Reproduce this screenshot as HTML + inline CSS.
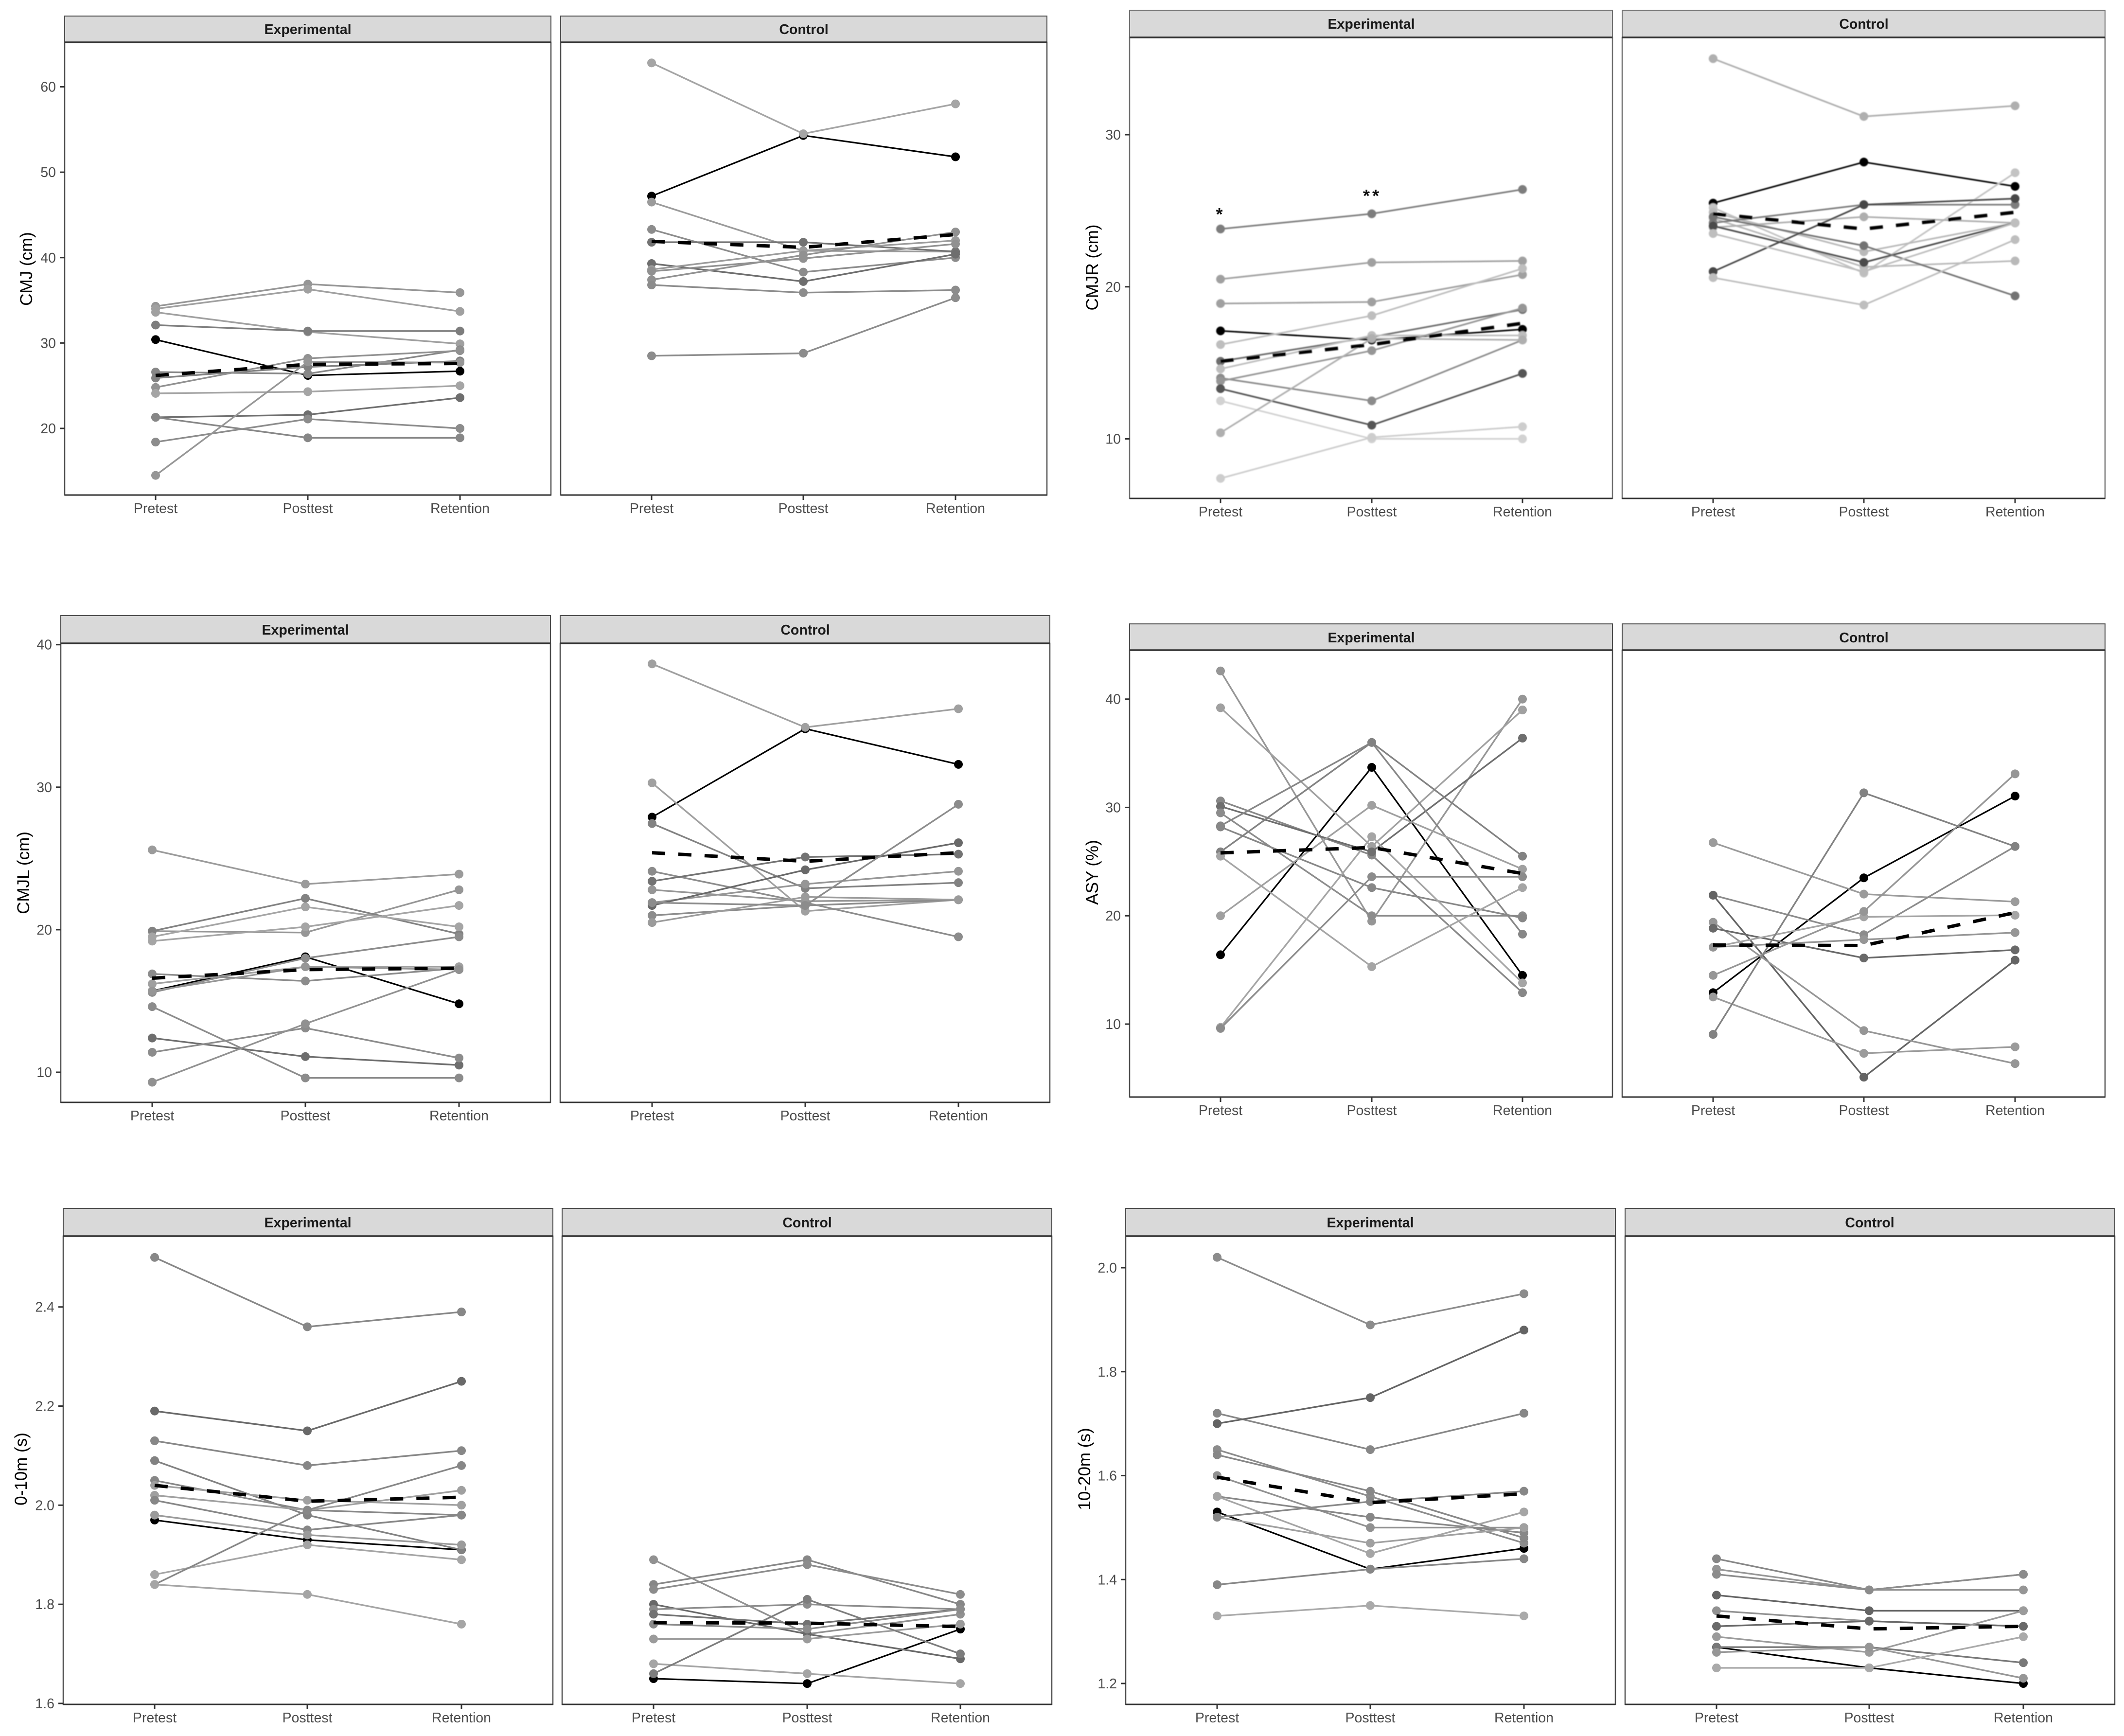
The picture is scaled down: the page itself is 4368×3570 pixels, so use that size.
<!DOCTYPE html>
<html lang="en">
<head>
<meta charset="utf-8">
<title>Jump and sprint performance by group and test</title>
<style>
html,body{margin:0;padding:0;background:#fff;}
svg{display:block;font-family:"Liberation Sans",sans-serif;}
.strip{font-size:28.5px;font-weight:bold;fill:#1a1a1a;text-anchor:middle;}
.ytitle{font-size:35px;fill:#000;text-anchor:middle;}
.star{font-size:36px;font-weight:bold;fill:#111;text-anchor:middle;letter-spacing:5px;}
</style>
</head>
<body>
<svg id="figure" xmlns="http://www.w3.org/2000/svg" width="4368" height="3570" viewBox="0 0 4368 3570">
<defs><filter id="soft" filterUnits="userSpaceOnUse" x="2200" y="0" width="2168" height="1100"><feGaussianBlur stdDeviation="1"/></filter></defs>
<rect x="0" y="0" width="4368" height="3570" fill="#fff"/>
<g id="plots"></g>
<g>
<text class="strip" x="633" y="70">Experimental</text>
<text class="strip" x="1653" y="70">Control</text>
<text class="strip" x="2820" y="59">Experimental</text>
<text class="strip" x="3833" y="59">Control</text>
<text class="strip" x="628" y="1305">Experimental</text>
<text class="strip" x="1656" y="1305">Control</text>
<text class="strip" x="2820" y="1321">Experimental</text>
<text class="strip" x="3833" y="1321">Control</text>
<text class="strip" x="633" y="2524">Experimental</text>
<text class="strip" x="1660" y="2524">Control</text>
<text class="strip" x="2818" y="2524">Experimental</text>
<text class="strip" x="3845" y="2524">Control</text>
</g>
<g>
<text class="ytitle" transform="translate(66,553) rotate(-90)">CMJ (cm)</text>
<text class="ytitle" transform="translate(2258,550) rotate(-90)">CMJR (cm)</text>
<text class="ytitle" transform="translate(60,1795) rotate(-90)">CMJL (cm)</text>
<text class="ytitle" transform="translate(2258,1794) rotate(-90)">ASY (%)</text>
<text class="ytitle" transform="translate(55,3021) rotate(-90)">0-10m (s)</text>
<text class="ytitle" transform="translate(2242,3021) rotate(-90)">10-20m (s)</text>
</g>
<g>
<text class="star" x="2510" y="453">*</text>
<text class="star" x="2822" y="415">**</text>
</g>
</svg>
<script>
const categories = ['Pretest', 'Posttest', 'Retention'];

const cmjTickLabels = ['20', '30', '40', '50', '60'];
const cmjExp = [[34.3,36.9,35.9],[34.0,36.3,33.7],[33.6,31.3,29.9],[32.1,31.4,31.4],[26.6,26.4,29.2],[25.9,27.2,27.9],[24.8,28.2,29.1],[24.1,24.3,25.0],[21.3,21.6,23.6],[21.3,18.9,18.9],[18.4,21.1,20.0],[14.5,27.8,27.7]];
const cmjExpShades = [150,160,160,125,135,130,145,165,110,135,140,150];
const cmjExpHighlight = [30.4,26.2,26.7];
const cmjExpMean = [26.2,27.5,27.6];
const cmjCtl = [[62.8,54.5,58.0],[46.5,40.8,40.7],[43.3,38.3,40.0],[41.8,41.8,40.7],[39.3,37.2,40.4],[38.6,40.8,42.0],[38.4,39.9,41.6],[37.4,40.3,43.0],[36.8,35.9,36.2],[28.5,28.8,35.3]];
const cmjCtlShades = [165,155,140,115,110,155,145,145,140,140];
const cmjCtlHighlight = [47.2,54.3,51.8];
const cmjCtlMean = [41.9,41.2,42.7];

const cmjrTickLabels = ['10', '20', '30'];
const cmjrExp = [[23.8,24.8,26.4],[20.5,21.6,21.7],[18.9,19.0,20.8],[16.2,18.1,21.2],[15.1,16.7,18.5],[14.6,16.8,16.8],[14.0,12.5,16.5],[13.8,15.8,18.6],[13.3,10.9,14.3],[12.5,10.0,10.0],[10.4,16.6,16.5],[7.4,10.1,10.8]];
const cmjrExpShades = [125,160,160,190,110,190,140,150,85,210,175,205];
const cmjrExpHighlight = [17.1,16.5,17.2];
const cmjrExpMean = [15.1,16.2,17.6];
const cmjrCtl = [[35.0,31.2,31.9],[25.2,20.9,27.5],[24.9,22.3,24.2],[24.5,21.3,21.7],[24.2,25.4,25.4],[23.9,24.6,24.2],[24.0,21.6,24.2],[24.6,22.7,19.4],[21.0,25.4,25.8],[20.6,18.8,23.1],[23.5,21.0,24.2]];
const cmjrCtlShades = [175,195,185,185,125,175,75,115,70,190,190];
const cmjrCtlHighlight = [25.5,28.2,26.6];
const cmjrCtlMean = [24.8,23.8,24.9];

const cmjlTickLabels = ['10', '20', '30', '40'];
const cmjlExp = [[25.6,23.2,23.9],[19.9,19.8,22.8],[19.9,22.2,19.7],[19.5,21.6,20.2],[19.2,20.2,21.7],[16.9,16.4,17.3],[16.2,17.4,17.4],[15.6,18.0,19.5],[15.7,17.4,17.2],[14.6,9.6,9.6],[12.4,11.1,10.5],[11.4,13.1,11.0],[9.3,13.4,17.2]];
const cmjlExpShades = [155,150,130,165,165,140,160,140,150,140,110,140,145];
const cmjlExpHighlight = [15.7,18.1,14.8];
const cmjlExpMean = [16.6,17.2,17.3];
const cmjlCtl = [[38.65,34.2,35.5],[30.3,21.3,22.1],[27.45,22.9,23.3],[24.1,21.9,19.5],[23.4,25.1,25.3],[22.8,22.0,22.1],[21.9,23.2,24.1],[21.7,24.2,26.1],[21.0,21.7,22.1],[20.5,22.3,22.1],[21.9,21.7,28.8]];
const cmjlCtlShades = [160,160,130,140,115,150,150,105,140,155,140];
const cmjlCtlHighlight = [27.9,34.1,31.6];
const cmjlCtlMean = [25.4,24.8,25.4];

const asyTickLabels = ['10', '20', '30', '40'];
const asyExp = [[42.6,19.5,40.0],[39.2,26.4,39.0],[30.6,25.6,12.9],[30.1,25.9,36.4],[29.5,20.0,20.0],[28.3,36.0,18.3],[28.2,22.6,19.8],[25.9,36.0,25.5],[25.5,15.3,22.6],[20.0,30.2,24.3],[9.7,27.3,13.8],[9.6,23.6,23.6]];
const asyExpShades = [150,160,135,110,140,135,135,130,165,160,165,140];
const asyExpHighlight = [16.4,33.7,14.5];
const asyExpMean = [25.8,26.3,23.9];
const asyCtl = [[26.75,22.0,21.3],[21.9,18.25,26.4],[21.9,5.1,15.9],[19.4,9.4,6.35],[18.85,16.1,16.85],[17.1,19.9,20.05],[17.1,17.8,18.45],[14.5,20.4,33.1],[12.5,7.3,7.9],[9.05,31.35,26.4]];
const asyCtlShades = [155,140,100,150,105,165,150,150,155,130];
const asyCtlHighlight = [12.9,23.5,31.05];
const asyCtlMean = [17.3,17.25,20.3];

const sprint10TickLabels = ['1.6', '1.8', '2.0', '2.2', '2.4'];
const sprint10Exp = [[2.50,2.36,2.39],[2.19,2.15,2.25],[2.13,2.08,2.11],[2.09,1.98,1.91],[2.05,1.99,1.98],[2.04,2.01,2.00],[2.02,1.99,2.03],[2.01,1.95,1.98],[1.98,1.94,1.92],[1.86,1.92,1.89],[1.84,1.99,2.08],[1.84,1.82,1.76]];
const sprint10ExpShades = [135,105,135,130,135,160,160,135,155,165,135,165];
const sprint10ExpHighlight = [1.97,1.93,1.91];
const sprint10ExpMean = [2.04,2.008,2.016];
const sprint10Ctl = [[1.89,1.74,1.78],[1.84,1.89,1.80],[1.83,1.88,1.82],[1.80,1.74,1.69],[1.79,1.80,1.79],[1.78,1.76,1.79],[1.76,1.75,1.79],[1.73,1.73,1.76],[1.68,1.66,1.64],[1.66,1.81,1.70]];
const sprint10CtlShades = [145,135,140,105,140,115,140,155,165,125];
const sprint10CtlHighlight = [1.65,1.64,1.75];
const sprint10CtlMean = [1.763,1.762,1.755];

const sprint20TickLabels = ['1.2', '1.4', '1.6', '1.8', '2.0'];
const sprint20Exp = [[2.02,1.89,1.95],[1.72,1.65,1.72],[1.70,1.75,1.88],[1.65,1.56,1.47],[1.64,1.57,1.48],[1.60,1.50,1.50],[1.56,1.52,1.49],[1.56,1.45,1.53],[1.52,1.47,1.50],[1.52,1.55,1.57],[1.39,1.42,1.44],[1.33,1.35,1.33]];
const sprint20ExpShades = [140,135,100,140,135,145,135,165,160,135,135,170];
const sprint20ExpHighlight = [1.53,1.42,1.46];
const sprint20ExpMean = [1.597,1.548,1.565];
const sprint20Ctl = [[1.44,1.38,1.41],[1.42,1.38,1.38],[1.41,1.38,1.41],[1.37,1.34,1.34],[1.34,1.32,1.31],[1.31,1.32,1.31],[1.29,1.26,1.34],[1.27,1.27,1.24],[1.26,1.27,1.21],[1.23,1.23,1.29]];
const sprint20CtlShades = [135,150,140,100,145,105,155,120,150,170];
const sprint20CtlHighlight = [1.27,1.23,1.20];
const sprint20CtlMean = [1.33,1.305,1.31];

const layouts = [
  {ticks: cmjTickLabels, tickLow: 881, tickHigh: 178.5, stripTop: 33, stripBottom: 87, bottom: 1018, frame: '#4d4d4d', soft: false,
   panels: [{l:133,r:1133,xs:[320,633,946],rows:cmjExp,shades:cmjExpShades,hi:cmjExpHighlight,mean:cmjExpMean},
            {l:1153,r:2153,xs:[1340,1652,1965],rows:cmjCtl,shades:cmjCtlShades,hi:cmjCtlHighlight,mean:cmjCtlMean}]},
  {ticks: cmjrTickLabels, tickLow: 902.5, tickHigh: 277, stripTop: 21, stripBottom: 77, bottom: 1025, frame: '#707070', soft: true,
   panels: [{l:2323,r:3316,xs:[2510,2821,3131],rows:cmjrExp,shades:cmjrExpShades,hi:cmjrExpHighlight,mean:cmjrExpMean},
            {l:3336,r:4329,xs:[3523,3833,4144],rows:cmjrCtl,shades:cmjrCtlShades,hi:cmjrCtlHighlight,mean:cmjrCtlMean}]},
  {ticks: cmjlTickLabels, tickLow: 2205, tickHigh: 1325.7, stripTop: 1266, stripBottom: 1323, bottom: 2267, frame: '#4d4d4d', soft: false,
   panels: [{l:125,r:1132,xs:[313,628,944],rows:cmjlExp,shades:cmjlExpShades,hi:cmjlExpHighlight,mean:cmjlExpMean},
            {l:1152,r:2159,xs:[1341,1656,1971],rows:cmjlCtl,shades:cmjlCtlShades,hi:cmjlCtlHighlight,mean:cmjlCtlMean}]},
  {ticks: asyTickLabels, tickLow: 2106, tickHigh: 1437.7, stripTop: 1283, stripBottom: 1337, bottom: 2256, frame: '#4d4d4d', soft: false,
   panels: [{l:2323,r:3316,xs:[2510,2821,3131],rows:asyExp,shades:asyExpShades,hi:asyExpHighlight,mean:asyExpMean},
            {l:3336,r:4329,xs:[3523,3833,4144],rows:asyCtl,shades:asyCtlShades,hi:asyCtlHighlight,mean:asyCtlMean}]},
  {ticks: sprint10TickLabels, tickLow: 3503, tickHigh: 2687.7, stripTop: 2485, stripBottom: 2542, bottom: 3505, frame: '#4d4d4d', soft: false,
   panels: [{l:130,r:1137,xs:[318,632,949],rows:sprint10Exp,shades:sprint10ExpShades,hi:sprint10ExpHighlight,mean:sprint10ExpMean},
            {l:1156,r:2163,xs:[1344,1660,1975],rows:sprint10Ctl,shades:sprint10CtlShades,hi:sprint10CtlHighlight,mean:sprint10CtlMean}]},
  {ticks: sprint20TickLabels, tickLow: 3462, tickHigh: 2607, stripTop: 2485, stripBottom: 2542, bottom: 3505, frame: '#4d4d4d', soft: false,
   panels: [{l:2315,r:3322,xs:[2503,2818,3134],rows:sprint20Exp,shades:sprint20ExpShades,hi:sprint20ExpHighlight,mean:sprint20ExpMean},
            {l:3342,r:4349,xs:[3530,3844,4161],rows:sprint20Ctl,shades:sprint20CtlShades,hi:sprint20CtlHighlight,mean:sprint20CtlMean}]}
];

const SVG_NS = 'http://www.w3.org/2000/svg';
const root = document.getElementById('plots');

function make(tag, parent, props) {
  const node = document.createElementNS(SVG_NS, tag);
  for (const key in props) { node.setAttribute(key, props[key]); }
  parent.appendChild(node);
  return node;
}

function yAxisScale(layout) {
  const v0 = Number(layout.ticks[0]);
  const v1 = Number(layout.ticks[layout.ticks.length - 1]);
  return function (v) { return layout.tickLow + (v - v0) * (layout.tickHigh - layout.tickLow) / (v1 - v0); };
}

function xAxisScale(panel) {
  return function (i) { return panel.xs[i]; };
}

function pathFor(values, x, y) {
  return values.map(function (v, i) { return (i ? 'L' : 'M') + x(i).toFixed(1) + ' ' + y(v).toFixed(1); }).join(' ');
}

function drawSeries(parent, values, color, width, x, y) {
  const line = make('path', parent, {d: pathFor(values, x, y), fill: 'none', stroke: color, 'stroke-width': width, 'stroke-linejoin': 'round'});
  
  
  values.forEach(function (v, i) {
    const dot = make('circle', parent, {cx: x(i), cy: y(v), r: 9, fill: color});
    
    
  });
}

layouts.forEach(function (layout) {
  const y = yAxisScale(layout);
  layout.panels.forEach(function (panel, panelIndex) {
    const x = xAxisScale(panel);
    const g = make('g', root, {});
    
    

    const strip = make('rect', g, {x: panel.l, y: layout.stripTop, width: panel.r - panel.l, height: layout.stripBottom - layout.stripTop, fill: '#d9d9d9', stroke: layout.frame, 'stroke-width': 2});
    
    

    const marks = make('g', g, layout.soft ? {filter: 'url(#soft)'} : {});
    
    

    drawSeries(marks, panel.hi, '#000', 3.2, x, y);
    panel.rows.forEach(function (row, i) {
      const level = panel.shades[i];
      drawSeries(marks, row, 'rgb(' + level + ',' + level + ',' + level + ')', 3.4, x, y);
    });

    const mean = make('path', marks, {d: pathFor(panel.mean, x, y), fill: 'none', stroke: '#000', 'stroke-width': 7, 'stroke-dasharray': '27 27'});
    
    

    const frame = make('rect', g, {x: panel.l, y: layout.stripBottom, width: panel.r - panel.l, height: layout.bottom - layout.stripBottom, fill: 'none', stroke: layout.frame, 'stroke-width': 2.5});
    
    

    const rule = make('line', g, {x1: panel.l, x2: panel.r, y1: layout.stripBottom, y2: layout.stripBottom, stroke: '#333', 'stroke-width': 3.5});
    
    

    const base = make('line', g, {x1: panel.l, x2: panel.r, y1: layout.bottom, y2: layout.bottom, stroke: '#333', 'stroke-width': 3});
    
    

    categories.forEach(function (name, i) {
      const tick = make('line', g, {x1: x(i), x2: x(i), y1: layout.bottom, y2: layout.bottom + 10, stroke: '#333', 'stroke-width': 3});
      
      
      const label = make('text', g, {x: x(i), y: layout.bottom + 37, 'text-anchor': 'middle', 'font-size': 28.5, fill: '#4d4d4d'});
      label.textContent = name;
      
      
    });

    if (panelIndex === 0) {
      layout.ticks.forEach(function (text) {
        const py = y(Number(text));
        const tick = make('line', g, {x1: panel.l - 10, x2: panel.l, y1: py, y2: py, stroke: '#333', 'stroke-width': 3});
        
        
        const label = make('text', g, {x: panel.l - 18, y: py + 10, 'text-anchor': 'end', 'font-size': 28.5, fill: '#4d4d4d'});
        label.textContent = text;
        
        
      });
    }
  });
});
</script>
</body>
</html>
